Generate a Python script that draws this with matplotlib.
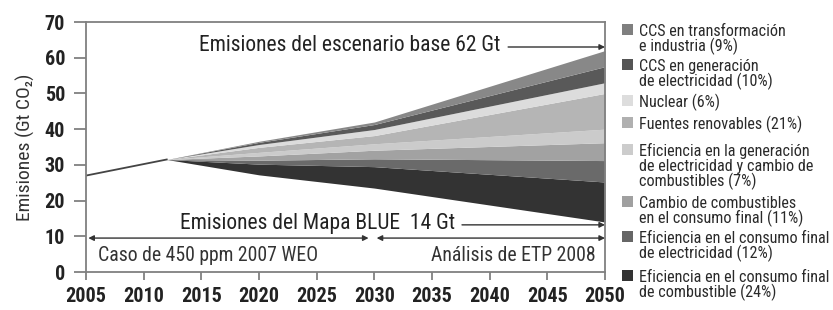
import matplotlib
matplotlib.use("Agg")
import matplotlib.pyplot as plt
from matplotlib import font_manager as fm
from matplotlib.patches import Rectangle
import numpy as np

# pick a condensed face, the reference uses a narrow grotesque
installed = {f.name for f in fm.fontManager.ttflist}
narrow = next((n for n in ['Roboto Condensed', 'IBM Plex Sans Condensed', 'Liberation Sans Narrow']
               if n in installed), 'DejaVu Sans')
plt.rcParams['font.family'] = [narrow, 'DejaVu Sans']

# data (Gt CO2)
years = [2005, 2012, 2020, 2030, 2050]
blue = [27.0, 31.5, 27.2, 23.5, 14.0]   # Mapa BLUE emissions (bottom of the wedges)

# wedges, from the bottom up
eff_fuel = [0, 0, 3.0, 6.0, 11.2]
eff_elec = [0, 0, 1.1, 2.2, 6.0]
fuel_sw = [0, 0, 1.2, 2.4, 5.0]
eff_gen = [0, 0, 1.0, 1.8, 3.8]
renew = [0, 0, 1.4, 2.3, 10.0]
nuclear = [0, 0, 0.8, 1.7, 3.0]
ccs_gen = [0, 0, 0.6, 1.4, 4.5]
ccs_trans = [0, 0, 0.3, 0.7, 4.5]

wedges = [eff_fuel, eff_elec, fuel_sw, eff_gen, renew, nuclear, ccs_gen, ccs_trans]
wedge_colors = ['#333333', '#6a6a6a', '#a2a2a2', '#cbcbcb', '#b5b5b5', '#dcdcdc', '#595959', '#888888']

legend_labels = [
    "CCS en transformación\ne industria (9%)",
    "CCS en generación\nde electricidad (10%)",
    "Nuclear (6%)",
    "Fuentes renovables (21%)",
    "Eficiencia en la generación\nde electricidad y cambio de\ncombustibles (7%)",
    "Cambio de combustibles\nen el consumo final (11%)",
    "Eficiencia en el consumo final\nde electricidad (12%)",
    "Eficiencia en el consumo final\nde combustible (24%)",
]
legend_colors = ['#7f7f7f', '#555555', '#dddddd', '#b0b0b0', '#cccccc', '#a0a0a0', '#666666', '#333333']

W, H = 833, 310
fig = plt.figure(figsize=(W / 100, H / 100), dpi=100)
ax = fig.add_axes([86 / W, 1 - 272 / H, (605 - 86) / W, (272 - 22) / H])

base = np.array(blue, dtype=float)
for vals, col in zip(wedges, wedge_colors):
    top = base + np.array(vals, dtype=float)
    ax.fill_between(years, base, top, color=col, lw=0)
    base = top
ax.plot(years[:2], blue[:2], color='#444444', lw=1.3)

ax.set_xlim(2005, 2050)
ax.set_ylim(0, 70)
ax.set_xticks(range(2005, 2051, 5))
ax.set_yticks(range(0, 71, 10))
for s in ax.spines.values():
    s.set_color('#808080')
    s.set_linewidth(1.3)
ax.tick_params(axis='y', length=9, width=1.3, color='#808080', pad=6, labelsize=14.5)
ax.tick_params(axis='x', length=6, width=1.3, color='#808080', pad=5, labelsize=14.5)
for lab in ax.get_xticklabels() + ax.get_yticklabels():
    lab.set_fontweight('bold')
    lab.set_color('#222222')
ax.set_ylabel("Emisiones (Gt CO₂)", fontsize=14, color='#333333', labelpad=7)

arrow = dict(arrowstyle='-|>', color='#333333', lw=1, mutation_scale=8, shrinkA=0, shrinkB=0)
dbl = dict(arrowstyle='<|-|>', color='#333333', lw=1, mutation_scale=8, shrinkA=0, shrinkB=0)

ax.text(2040.9, 63.3, "Emisiones del escenario base 62 Gt", ha='right', va='center',
        fontsize=15.5, color='#222222')
ax.annotate('', xy=(2050, 63.0), xytext=(2041.6, 63.0), arrowprops=arrow)
ax.text(2037.0, 13.6, "Emisiones del Mapa BLUE  14 Gt", ha='right', va='center',
        fontsize=15.5, color='#222222')
ax.annotate('', xy=(2050, 13.2), xytext=(2037.6, 13.2), arrowprops=arrow)
ax.annotate('', xy=(2029.5, 9.5), xytext=(2005.2, 9.5), arrowprops=dbl)
ax.annotate('', xy=(2050, 9.5), xytext=(2030.2, 9.5), arrowprops=dbl)
ax.text(2006.0, 4.5, "Caso de 450 ppm 2007 WEO", ha='left', va='center', fontsize=14.2, color='#333333')
ax.text(2049.2, 4.5, "Análisis de ETP 2008", ha='right', va='center', fontsize=14.2, color='#333333')

# legend drawn by hand on the right
baselines = [36, 71, 107, 129, 156, 208, 243, 282]
for lab, col, b in zip(legend_labels, legend_colors, baselines):
    fig.patches.append(Rectangle((622 / W, 1 - (b - 1) / H), 11 / W, 11 / H,
                                 transform=fig.transFigure, color=col, lw=0))
    for i, line in enumerate(lab.split('\n')):
        fig.text(639 / W, 1 - (b + i * 15) / H, line, ha='left', va='baseline',
                 fontsize=11.6, color='#2a2a2a')

fig.savefig("out.png", dpi=100)
